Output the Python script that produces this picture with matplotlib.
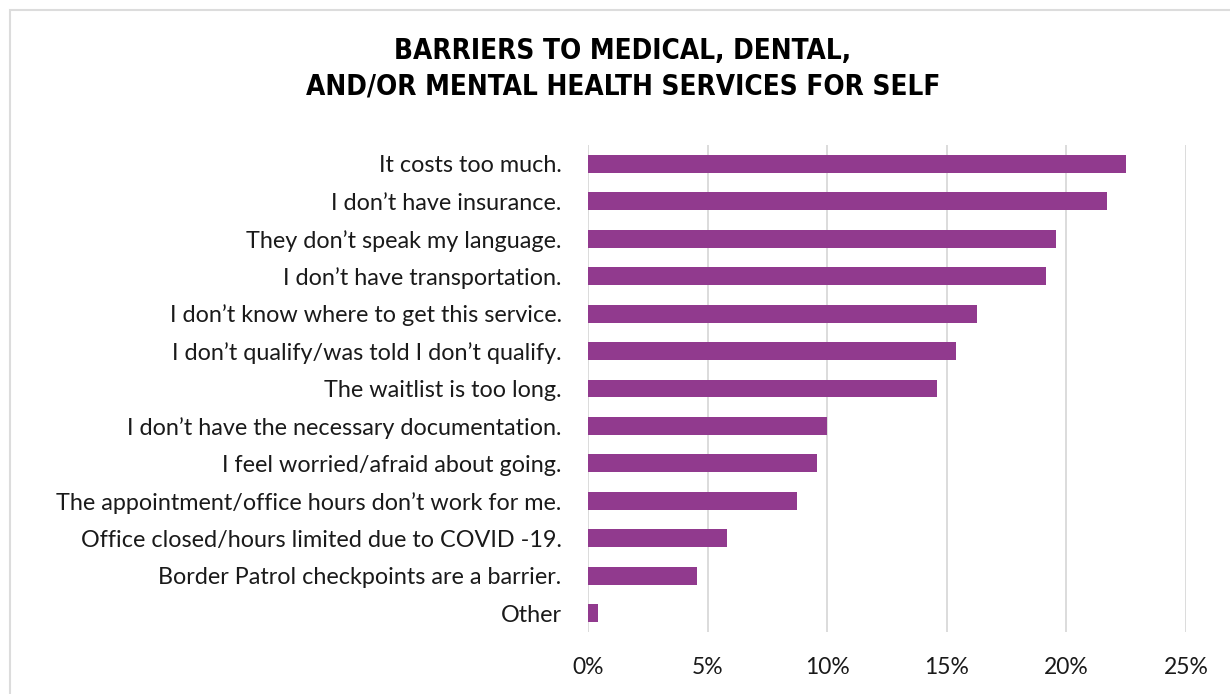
import matplotlib.pyplot as plt
from matplotlib.patches import Rectangle
from matplotlib.ticker import PercentFormatter

# Survey responses, top to bottom
barriers = [
    "It costs too much.",
    "I don’t have insurance.",
    "They don’t speak my language.",
    "I don’t have transportation.",
    "I don’t know where to get this service.",
    "I don’t qualify/was told I don’t qualify.",
    "The waitlist is too long.",
    "I don’t have the necessary documentation.",
    "I feel worried/afraid about going.",
    "The appointment/office hours don’t work for me.",
    "Office closed/hours limited due to COVID -19.",
    "Border Patrol checkpoints are a barrier.",
    "Other",
]
shares = [0.225, 0.217, 0.1955, 0.1915, 0.1625, 0.154, 0.146,
          0.100, 0.0958, 0.0873, 0.0581, 0.0456, 0.0041]
xticks = [0, 0.05, 0.10, 0.15, 0.20, 0.25]

bar_color = "#913A8E"
grid_color = "#D9D9D9"

fig = plt.figure(figsize=(12.3, 6.94), dpi=100)
ax = fig.add_axes([588 / 1230, 1 - 632 / 694, (1186 - 588) / 1230, (632 - 145) / 694])

ypos = list(range(len(barriers)))[::-1]
ax.barh(ypos, shares, height=0.48, color=bar_color, zorder=3)

ax.set_xlim(0, 0.25)
ax.set_ylim(-0.5, len(barriers) - 0.5)
ax.set_xticks(xticks)
ax.xaxis.set_major_formatter(PercentFormatter(1.0, decimals=0))
ax.set_yticks(ypos)
ax.set_yticklabels(barriers)
ax.grid(axis="x", color=grid_color, linewidth=1.3, zorder=0)
for side in ax.spines.values():
    side.set_visible(False)
ax.tick_params(axis="both", length=0, labelcolor="#1a1a1a")
ax.tick_params(axis="y", pad=19, labelsize=16.8)
ax.tick_params(axis="x", pad=18, labelsize=16.5)
for lbl in ax.get_xticklabels() + ax.get_yticklabels():
    lbl.set_family(["Lato", "DejaVu Sans"])

fig.text(623 / 1230, 1 - 69 / 694,
         "BARRIERS TO MEDICAL, DENTAL,\nAND/OR MENTAL HEALTH SERVICES FOR SELF",
         ha="center", va="center", fontsize=20, fontweight="heavy",
         fontstretch="condensed", family=["DejaVu Sans"], linespacing=1.35)

# thin outer frame
fig.patches.append(Rectangle((10 / 1230, -0.02), 1.2, 1 - 10 / 694 + 0.02,
                             transform=fig.transFigure, fill=False,
                             edgecolor="#DCDCDC", linewidth=1.5))

fig.savefig("out.png", dpi=100)
